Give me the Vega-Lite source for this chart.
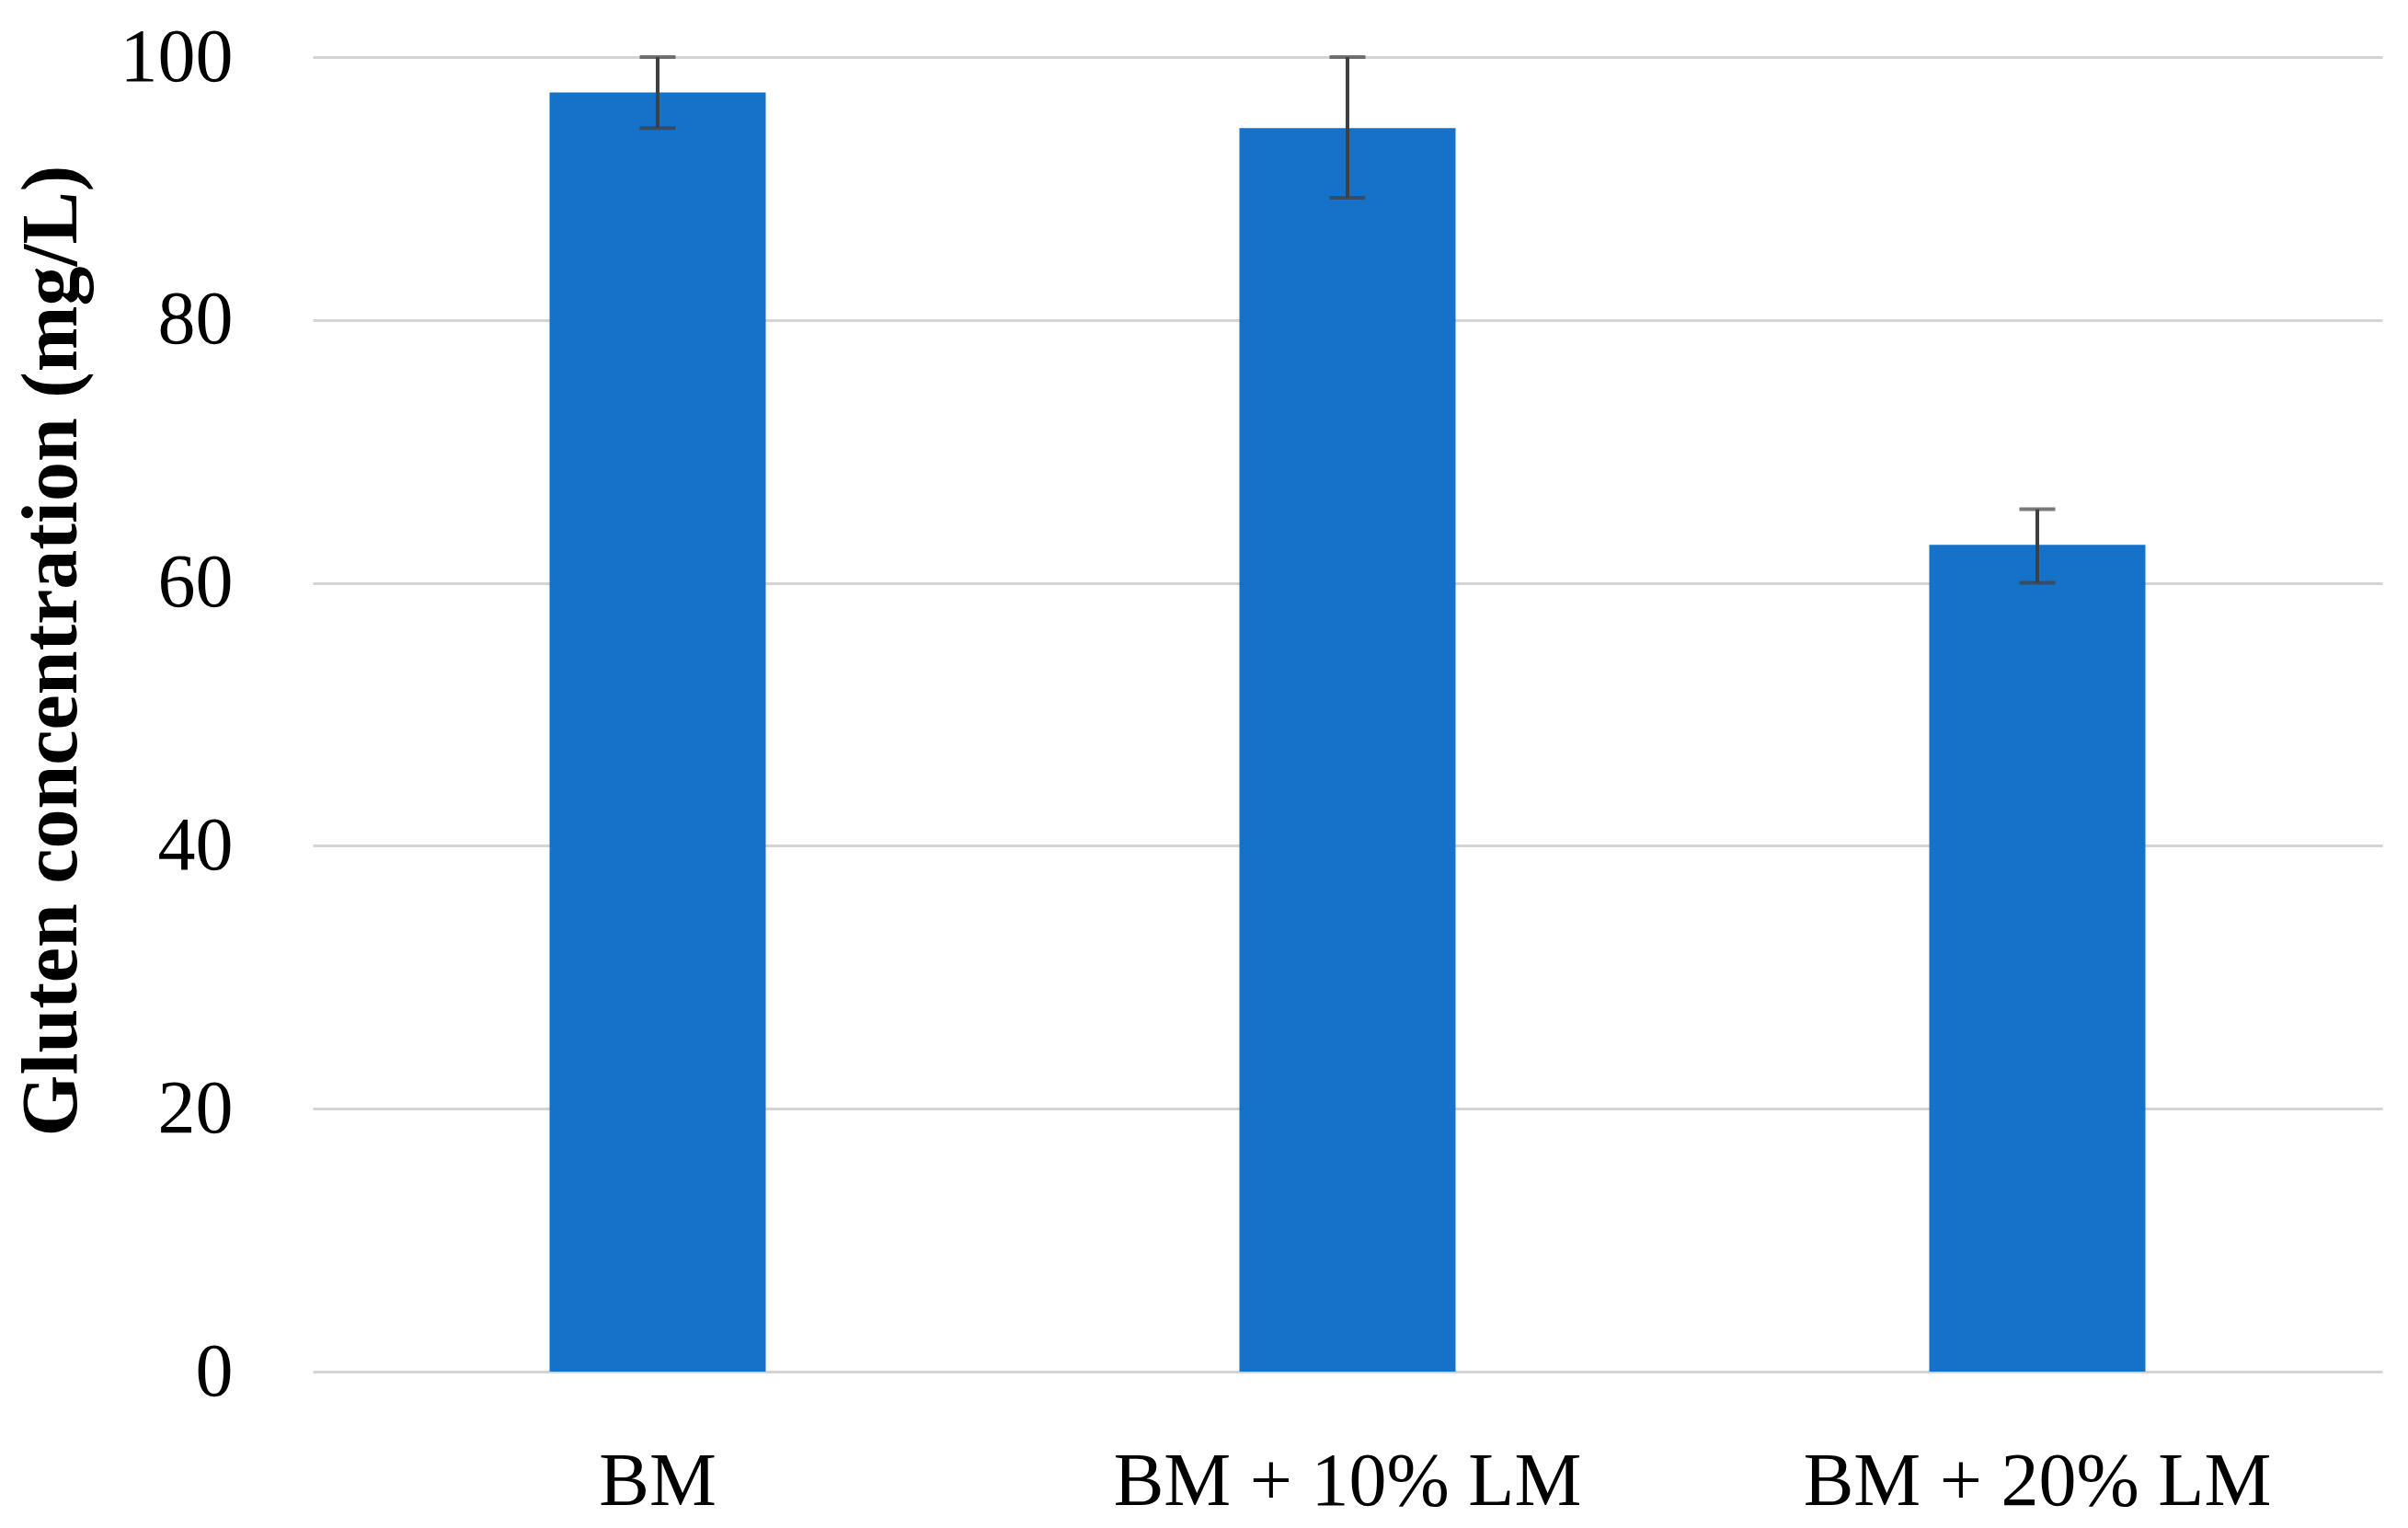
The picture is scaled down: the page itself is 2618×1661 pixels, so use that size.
{
  "$schema": "https://vega.github.io/schema/vega-lite/v6.json",
  "autosize": {"type": "none"},
  "width": 2250,
  "height": 1429,
  "padding": {"left": 340, "top": 62, "right": 28, "bottom": 170},
  "background": "white",
  "config": {
    "view": {"stroke": null},
    "font": "Liberation Serif"
  },
  "data": {
    "values": [
      {"group": "BM", "mean": 97.3, "lo": 94.6, "hi": 100.0},
      {"group": "BM + 10% LM", "mean": 94.6, "lo": 89.3, "hi": 100.0},
      {"group": "BM + 20% LM", "mean": 62.9, "lo": 60.0, "hi": 65.6}
    ]
  },
  "encoding": {
    "x": {
      "field": "group",
      "type": "nominal",
      "sort": null,
      "scale": {"paddingInner": 0, "paddingOuter": 0},
      "axis": {
        "title": null,
        "labelAngle": 0,
        "labelLimit": 0,
        "labelFont": "Liberation Serif",
        "labelFontSize": 82,
        "labelColor": "#000000",
        "labelPadding": 79,
        "ticks": false,
        "domain": false,
        "grid": false
      }
    }
  },
  "layer": [
    {
      "mark": {"type": "bar", "size": 235, "color": "#1671C9"},
      "encoding": {
        "y": {
          "field": "mean",
          "type": "quantitative",
          "scale": {"domain": [0, 100], "nice": false},
          "axis": {
            "title": "Gluten concentration (mg/L)",
            "titleFont": "Liberation Serif",
            "titleFontSize": 86,
            "titleFontWeight": "bold",
            "titleColor": "#000000",
            "titleAngle": -90,
            "titleAlign": "center",
            "titleBaseline": "alphabetic",
            "titleX": -258,
            "titleY": 645,
            "values": [0, 20, 40, 60, 80, 100],
            "labelFont": "Liberation Serif",
            "labelFontSize": 82,
            "labelColor": "#000000",
            "labelPadding": 87,
            "ticks": false,
            "domain": false,
            "grid": true,
            "gridColor": "#D4D4D4",
            "gridWidth": 3
          }
        }
      }
    },
    {
      "mark": {"type": "rule", "color": "#404040", "strokeWidth": 4},
      "encoding": {
        "y": {"field": "lo", "type": "quantitative"},
        "y2": {"field": "hi"}
      }
    },
    {
      "mark": {"type": "tick", "color": "#404040", "size": 39, "thickness": 4, "orient": "horizontal"},
      "encoding": {
        "y": {"field": "lo", "type": "quantitative"}
      }
    },
    {
      "mark": {"type": "tick", "color": "#404040", "size": 39, "thickness": 4, "orient": "horizontal"},
      "encoding": {
        "y": {"field": "hi", "type": "quantitative"}
      }
    }
  ]
}
